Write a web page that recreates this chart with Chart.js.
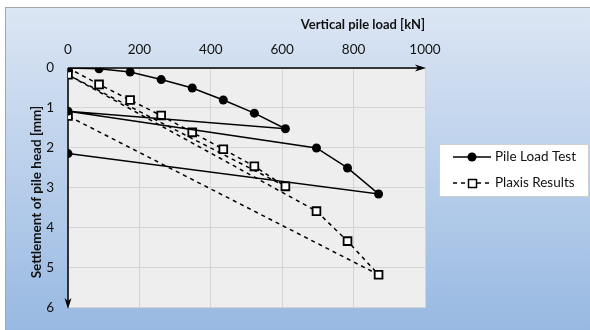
<!DOCTYPE html>
<html lang="en">
<head>
    <meta charset="UTF-8">
    <title>Pile load test vs Plaxis</title>
    <script src="https://cdn.jsdelivr.net/npm/chart.js"></script>
    <style>
        body {
            margin: 0;
            background: #ffffff;
        }

        #wrap {
            width: 590px;
            height: 330px;
        }
    </style>
</head>
<body>
    <div id="wrap">
        <canvas id="pileChart" width="590" height="330"></canvas>
    </div>

    <script>
        // Dados
        const testLoad = [0, 87, 174, 261, 348, 435, 522, 609, 0, 696, 783, 870, 0];
        const testSettle = [0, 0.02, 0.1, 0.29, 0.5, 0.8, 1.13, 1.52, 1.08, 2.0, 2.5, 3.15, 2.14];
        const plaxisLoad = [0, 87, 174, 261, 348, 435, 522, 609, 0, 696, 783, 870, 0];
        const plaxisSettle = [0, 0.41, 0.8, 1.19, 1.61, 2.03, 2.46, 2.96, 0.17, 3.58, 4.33, 5.17, 1.2];
        const loadTicks = [0, 200, 400, 600, 800, 1000];
        const settleTicks = [0, 1, 2, 3, 4, 5, 6];
        const seriesNames = ['Pile Load Test', 'Plaxis Results'];
        const xTitle = 'Vertical pile load [kN]';
        const yTitle = 'Settlement of pile head [mm]';

        const FONT = 'Lato, "Open Sans", sans-serif';

        function toPoints(xs, ys) {
            return xs.map((x, i) => ({ x: x, y: ys[i] }));
        }

        // fundo, eixos com setas, títulos e legenda
        const decor = {
            id: 'decor',
            beforeDraw(chart) {
                const c = chart.ctx;
                const a = chart.chartArea;
                c.save();
                c.fillStyle = '#ffffff';
                c.fillRect(0, 0, chart.width, chart.height);
                const g = c.createLinearGradient(0, 7, 0, chart.height);
                g.addColorStop(0, '#dce6f4');
                g.addColorStop(1, '#98b9e2');
                c.fillStyle = g;
                c.fillRect(5, 7, chart.width - 5, chart.height - 7);
                c.strokeStyle = '#a6a6a6';
                c.lineWidth = 1;
                c.strokeRect(5.5, 7.5, chart.width - 5, chart.height - 7);
                c.fillStyle = '#eeeeee';
                c.fillRect(a.left, a.top, a.right - a.left, a.bottom - a.top);
                c.restore();
            },
            beforeDatasetsDraw(chart) {
                const c = chart.ctx;
                const a = chart.chartArea;
                c.save();
                c.strokeStyle = '#000';
                c.fillStyle = '#000';
                c.lineWidth = 1.5;
                // eixo x (topo)
                c.beginPath();
                c.moveTo(a.left, a.top);
                c.lineTo(a.right - 2, a.top);
                c.stroke();
                c.beginPath();
                c.moveTo(a.right + 1, a.top);
                c.lineTo(a.right - 10, a.top - 3.5);
                c.lineTo(a.right - 7, a.top);
                c.lineTo(a.right - 10, a.top + 3.5);
                c.closePath();
                c.fill();
                // eixo y
                c.beginPath();
                c.moveTo(a.left, a.top);
                c.lineTo(a.left, a.bottom - 2);
                c.stroke();
                c.beginPath();
                c.moveTo(a.left, a.bottom + 1);
                c.lineTo(a.left - 3.5, a.bottom - 10);
                c.lineTo(a.left, a.bottom - 7);
                c.lineTo(a.left + 3.5, a.bottom - 10);
                c.closePath();
                c.fill();
                c.restore();
            },
            afterDraw(chart) {
                const c = chart.ctx;
                c.save();
                c.fillStyle = '#111';
                c.font = 'bold 13px ' + FONT;
                c.textBaseline = 'middle';
                c.textAlign = 'center';
                c.fillText(xTitle, 363, 25);
                c.translate(37, 192);
                c.rotate(-Math.PI / 2);
                c.font = 'bold 13.5px ' + FONT;
                c.fillText(yTitle, 0, 0);
                c.restore();

                // legenda
                c.save();
                c.fillStyle = '#ffffff';
                c.fillRect(439, 144, 149, 52);
                c.strokeStyle = '#d0d0d0';
                c.lineWidth = 1;
                c.strokeRect(439.5, 144.5, 149, 52);
                c.strokeStyle = '#000';
                c.fillStyle = '#000';
                c.lineWidth = 1.5;
                c.beginPath();
                c.moveTo(453, 157);
                c.lineTo(491, 157);
                c.stroke();
                c.beginPath();
                c.arc(472, 157, 4.5, 0, Math.PI * 2);
                c.fill();
                c.setLineDash([4, 4]);
                c.beginPath();
                c.moveTo(453, 183);
                c.lineTo(491, 183);
                c.stroke();
                c.setLineDash([]);
                c.fillStyle = '#fff';
                c.fillRect(468.5, 179.5, 8, 8);
                c.strokeRect(468.5, 179.5, 8, 8);
                c.fillStyle = '#111';
                c.font = '13.5px ' + FONT;
                c.textAlign = 'left';
                c.textBaseline = 'middle';
                c.fillText(seriesNames[0], 495, 157);
                c.fillText(seriesNames[1], 495, 183);
                c.restore();
            }
        };

        const ctx = document.getElementById('pileChart').getContext('2d');
        const chart = new Chart(ctx, {
            type: 'scatter',
            data: {
                datasets: [{
                    label: seriesNames[0],
                    data: toPoints(testLoad, testSettle),
                    showLine: true,
                    borderColor: '#000',
                    borderWidth: 1.5,
                    backgroundColor: '#000',
                    pointStyle: 'circle',
                    pointRadius: 4.5,
                    pointBorderWidth: 0
                }, {
                    label: seriesNames[1],
                    data: toPoints(plaxisLoad, plaxisSettle),
                    showLine: true,
                    borderColor: '#000',
                    borderWidth: 1.5,
                    borderDash: [4, 4],
                    backgroundColor: '#fff',
                    pointStyle: 'rect',
                    pointRadius: 5.5,
                    pointBorderWidth: 1.8,
                    pointBorderColor: '#000'
                }]
            },
            options: {
                responsive: false,
                animation: false,
                layout: {
                    padding: { left: 0, top: 0, right: 165, bottom: 13 }
                },
                plugins: {
                    legend: { display: false },
                    tooltip: { enabled: false }
                },
                scales: {
                    x: {
                        type: 'linear',
                        position: 'top',
                        min: 0,
                        max: 1000,
                        afterFit(scale) { scale.height = 68; },
                        afterBuildTicks(scale) {
                            scale.ticks = loadTicks.map(v => ({ value: v }));
                        },
                        ticks: {
                            padding: 10,
                            color: '#111',
                            font: { family: FONT, size: 13.5 },
                            callback: v => String(v)
                        },
                        grid: {
                            color: '#d4d4d4',
                            lineWidth: 1,
                            drawTicks: false
                        },
                        border: { display: false }
                    },
                    y: {
                        type: 'linear',
                        reverse: true,
                        min: 0,
                        max: 6,
                        afterFit(scale) { scale.width = 68; },
                        afterBuildTicks(scale) {
                            scale.ticks = settleTicks.map(v => ({ value: v }));
                        },
                        ticks: {
                            padding: 14,
                            color: '#111',
                            font: { family: FONT, size: 13.5 },
                            callback: v => String(v)
                        },
                        grid: {
                            color: '#d4d4d4',
                            lineWidth: 1,
                            drawTicks: false
                        },
                        border: { display: false }
                    }
                }
            },
            plugins: [decor]
        });
    </script>
</body>
</html>
